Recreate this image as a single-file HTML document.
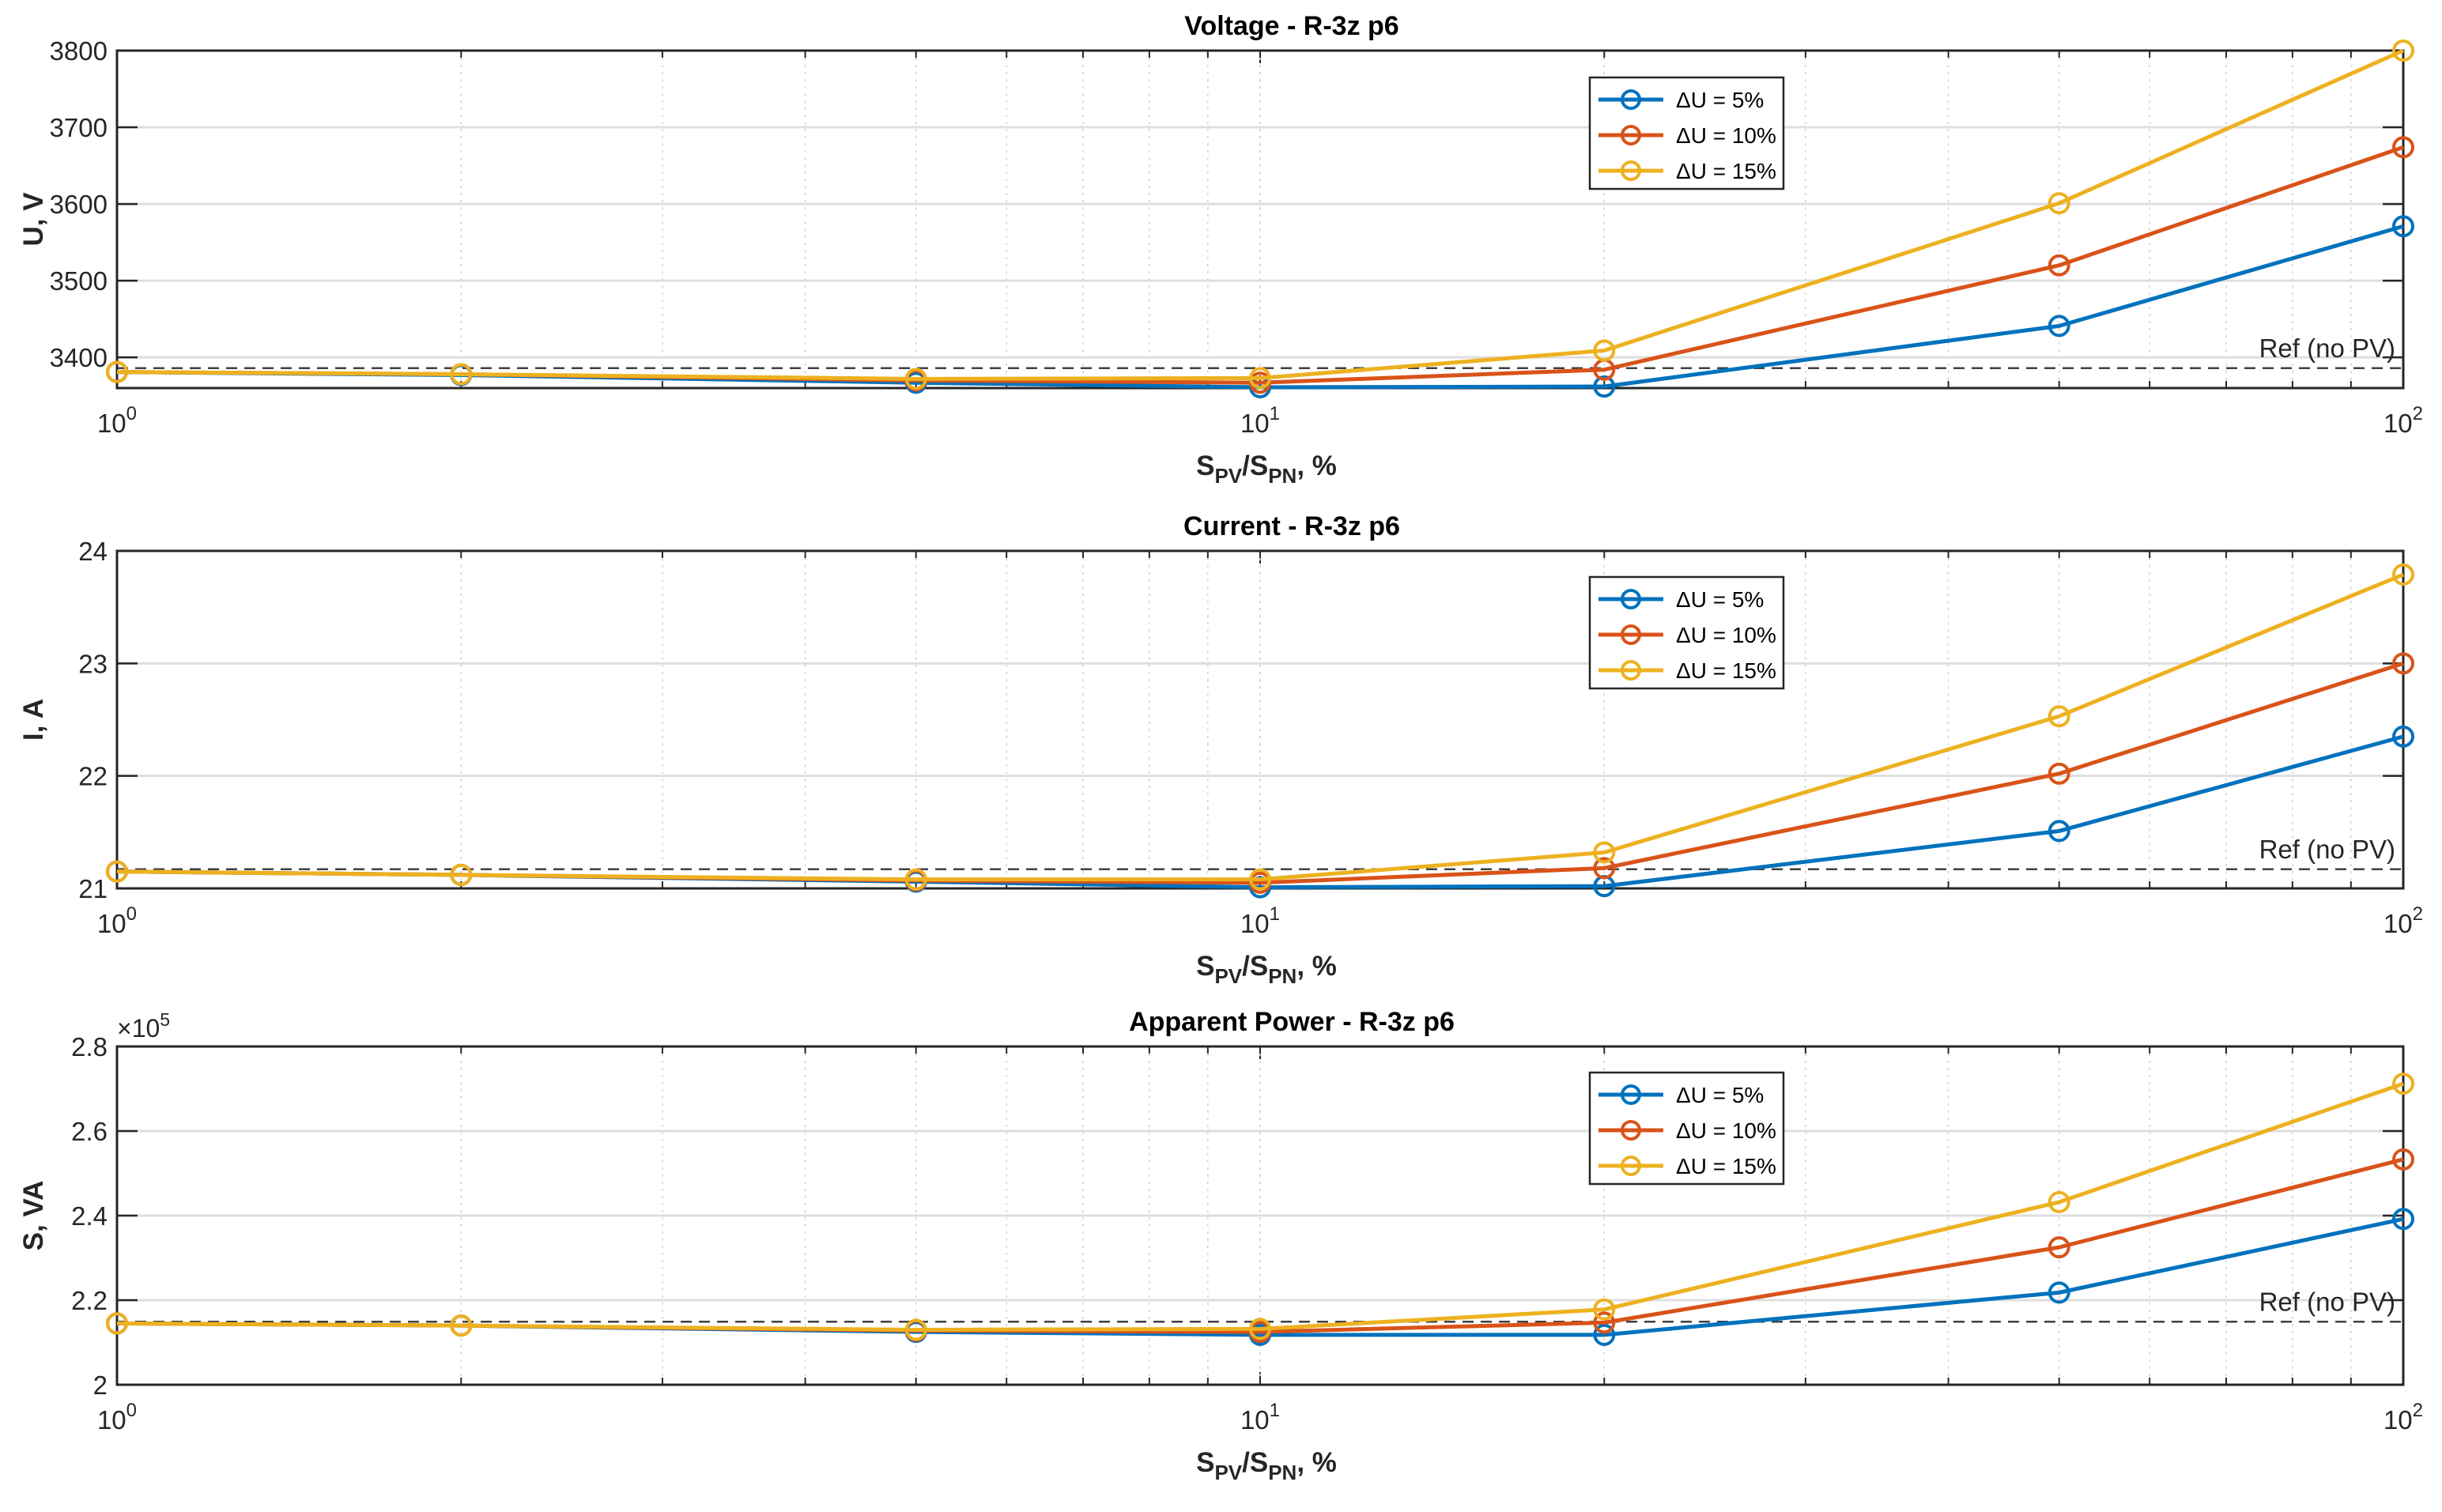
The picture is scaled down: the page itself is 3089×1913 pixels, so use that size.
<!DOCTYPE html>
<html><head><meta charset="utf-8"><style>
html,body{margin:0;padding:0;background:#fff;}
svg{display:block;font-family:"Liberation Sans",Arial,sans-serif;}
</style></head>
<body>
<svg id="fig" width="3089" height="1913" viewBox="0 0 3089 1913" xmlns="http://www.w3.org/2000/svg"></svg>
<script>
const xCats = [1, 2, 5, 10, 20, 50, 100];
const seriesNames = ["ΔU = 5%", "ΔU = 10%", "ΔU = 15%"];
const seriesColors = ["#0072BD", "#D95319", "#EDB120"];
const xTickLabels = ["0", "1", "2"];

const vBlue = [3381, 3377, 3367, 3361, 3362, 3441, 3571];
const vRed = [3381, 3378, 3370, 3367, 3384, 3520, 3674];
const vYellow = [3381, 3378, 3372, 3373, 3409, 3601, 3800];
const vRef = 3386;
const vTicks = [3400, 3500, 3600, 3700, 3800];

const iBlue = [21.15, 21.12, 21.06, 21.01, 21.02, 21.51, 22.35];
const iRed = [21.15, 21.12, 21.07, 21.05, 21.18, 22.02, 23.0];
const iYellow = [21.15, 21.12, 21.08, 21.08, 21.32, 22.53, 23.79];
const iRef = 21.17;
const iTicks = [21, 22, 23, 24];

const sBlue = [2.145, 2.14, 2.125, 2.118, 2.118, 2.218, 2.392];
const sRed = [2.145, 2.14, 2.128, 2.125, 2.147, 2.325, 2.533];
const sYellow = [2.145, 2.14, 2.13, 2.132, 2.178, 2.432, 2.712];
const sRef = 2.149;
const sTicks = [2.0, 2.2, 2.4, 2.6, 2.8];

const NS = "http://www.w3.org/2000/svg";
const svg = document.getElementById("fig");
function mk(tag, attrs, parent) {
  const e = document.createElementNS(NS, tag);
  for (const k in attrs) e.setAttribute(k, attrs[k]);
  (parent || svg).appendChild(e);
  return e;
}

const L = 148, R = 3040;
const panels = [
  {key:"voltage", title:"Voltage - R-3z p6", ylab:"U, V", top:64, bot:491, ymin:3360, ymax:3800, ticks:vTicks, fmt:v=>String(v), series:[vBlue,vRed,vYellow], ref:vRef, legTop:98, exp:false},
  {key:"current", title:"Current - R-3z p6", ylab:"I, A", top:697, bot:1124, ymin:21, ymax:24, ticks:iTicks, fmt:v=>String(v), series:[iBlue,iRed,iYellow], ref:iRef, legTop:730, exp:false},
  {key:"power", title:"Apparent Power - R-3z p6", ylab:"S, VA", top:1324, bot:1752, ymin:2.0, ymax:2.8, ticks:sTicks, fmt:v=>v.toFixed(1).replace(/\.0$/, ""), series:[sBlue,sRed,sYellow], ref:sRef, legTop:1357, exp:true}
];

function xs(v){ return L + Math.log10(v)/2 * (R - L); }

panels.forEach(p => {
  const g = mk("g", {});
  
  
  const ys = v => p.bot - (v - p.ymin)/(p.ymax - p.ymin) * (p.bot - p.top);
  for (let d = 0; d < 2; d++) {
    for (let m = 1; m <= 10; m++) {
      const v = Math.pow(10, d) * m;
      if (v === 1 || v === 100) continue;
      const x = xs(v);
      const ln = mk("line", {x1:x, x2:x, y1:p.top, y2:p.bot, stroke:"#d0d0d0", "stroke-width":1.5, "stroke-dasharray":"3,6"}, g);
      
      
      mk("line", {x1:x, x2:x, y1:p.bot, y2:p.bot-(m===10?16:9), stroke:"#262626", "stroke-width":2}, g);
      mk("line", {x1:x, x2:x, y1:p.top, y2:p.top+(m===10?16:9), stroke:"#262626", "stroke-width":2}, g);
    }
  }
  p.ticks.forEach(t => {
    const y = ys(t);
    const ln = mk("line", {x1:L, x2:R, y1:y, y2:y, stroke:"#dedede", "stroke-width":3}, g);
    
    
    mk("line", {x1:L, x2:L+26, y1:y, y2:y, stroke:"#262626", "stroke-width":2.5}, g);
    mk("line", {x1:R, x2:R-26, y1:y, y2:y, stroke:"#262626", "stroke-width":2.5}, g);
    const tx = mk("text", {x:L-12, y:y+12, "text-anchor":"end", "font-size":33, fill:"#262626"}, g);
    tx.textContent = p.fmt(t);
    
    
  });
  const ry = ys(p.ref);
  const rl = mk("line", {x1:L, x2:R, y1:ry, y2:ry, stroke:"#404040", "stroke-width":2.5, "stroke-dasharray":"14,9"}, g);
  
  
  const rt = mk("text", {x:R-10, y:ry-14, "text-anchor":"end", "font-size":33, fill:"#262626"}, g);
  rt.textContent = "Ref (no PV)";
  
  
  const box = mk("rect", {x:L, y:p.top, width:R-L, height:p.bot-p.top, fill:"none", stroke:"#262626", "stroke-width":3}, g);
  
  
  p.series.forEach((vals, si) => {
    const pts = vals.map((v, i) => xs(xCats[i]) + "," + ys(v)).join(" ");
    const pl = mk("polyline", {points:pts, fill:"none", stroke:seriesColors[si], "stroke-width":5, "stroke-linejoin":"round"}, g);
    
    
    vals.forEach((v, i) => {
      const c = mk("circle", {cx:xs(xCats[i]), cy:ys(v), r:12, fill:"none", stroke:seriesColors[si], "stroke-width":4}, g);
      
      
    });
  });
  [1, 10, 100].forEach((v, i) => {
    const t = mk("text", {x:xs(v), y:p.bot+56, "text-anchor":"middle", "font-size":33, fill:"#262626"}, g);
    t.textContent = "10";
    const sup = mk("tspan", {dy:-16, "font-size":24}, t);
    sup.textContent = xTickLabels[i];
    
    
  });
  const xl = mk("text", {x:(L+R)/2+8, y:p.bot+110, "text-anchor":"middle", "font-size":35, "font-weight":"bold", fill:"#262626"}, g);
  
  
  xl.innerHTML = 'S<tspan dy="10" font-size="26">PV</tspan><tspan dy="-10">/S</tspan><tspan dy="10" font-size="26">PN</tspan><tspan dy="-10">, %</tspan>';
  const yl = mk("text", {x:0, y:0, transform:"translate(54," + ((p.top+p.bot)/2) + ") rotate(-90)", "text-anchor":"middle", "font-size":35, "font-weight":"bold", fill:"#262626"}, g);
  yl.textContent = p.ylab;
  
  
  const ti = mk("text", {x:(L+R)/2 + 40, y:p.top-20, "text-anchor":"middle", "font-size":34, "font-weight":"bold", fill:"#000"}, g);
  ti.textContent = p.title;
  
  
  if (p.exp) {
    const ex = mk("text", {x:L, y:p.top-12, "font-size":32, fill:"#262626"}, g);
    ex.innerHTML = '×10<tspan dy="-14" font-size="23">5</tspan>';
    
    
  }
  const lg = mk("g", {}, g);
  
  
  mk("rect", {x:2011, y:p.legTop, width:245, height:141, fill:"#fff", stroke:"#262626", "stroke-width":2.5}, lg);
  seriesNames.forEach((n, si) => {
    const ly = p.legTop + 28 + si*45;
    const e = mk("g", {}, lg);
    
    
    mk("line", {x1:2022, x2:2104, y1:ly, y2:ly, stroke:seriesColors[si], "stroke-width":5}, e);
    mk("circle", {cx:2063, cy:ly, r:11, fill:"none", stroke:seriesColors[si], "stroke-width":4}, e);
    const t = mk("text", {x:2120, y:ly+10, "font-size":28, fill:"#000"}, e);
    t.textContent = n;
  });
});
</script>
</body></html>
